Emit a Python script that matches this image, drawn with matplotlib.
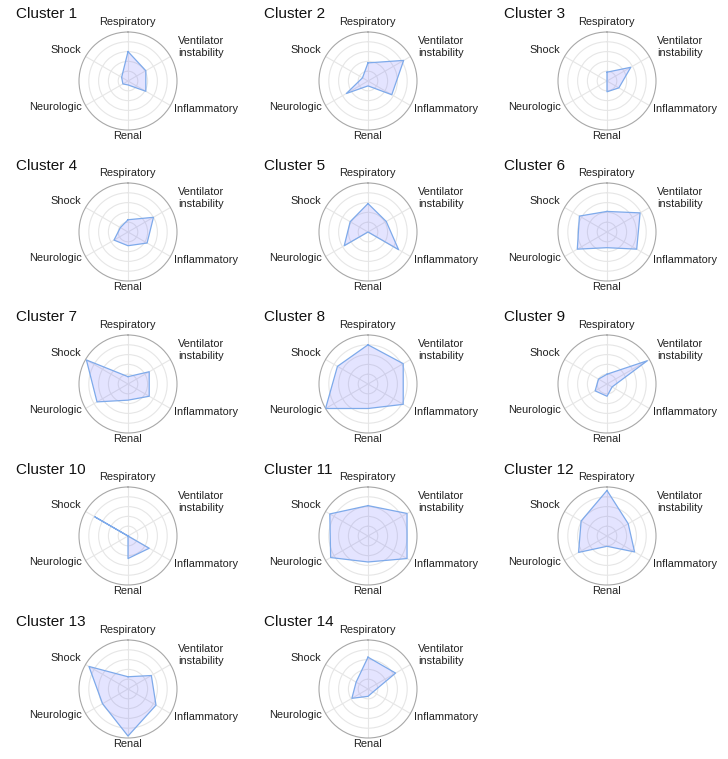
import numpy as np
import matplotlib
matplotlib.use('Agg')
import matplotlib.pyplot as plt

plt.rcParams['font.family'] = ['Liberation Sans', 'DejaVu Sans']

# axis order: clockwise from the top
categories = ['Respiratory', 'Ventilator\ninstability', 'Inflammatory', 'Renal', 'Neurologic', 'Shock']

cluster_names = ['Cluster %d' % i for i in range(1, 15)]
c1 = [0.60, 0.42, 0.42, 0.08, 0.12, 0.15]
c2 = [0.37, 0.84, 0.56, 0.10, 0.51, 0.13]
c3 = [0.18, 0.56, 0.28, 0.22, 0.00, 0.00]
c4 = [0.25, 0.60, 0.45, 0.28, 0.33, 0.18]
c5 = [0.58, 0.43, 0.72, 0.00, 0.56, 0.42]
c6 = [0.42, 0.78, 0.70, 0.32, 0.70, 0.65]
c7 = [0.15, 0.50, 0.50, 0.33, 0.73, 0.98]
c8 = [0.80, 0.83, 0.83, 0.50, 1.00, 0.72]
c9 = [0.20, 0.95, 0.12, 0.25, 0.28, 0.20]
c10 = [0.00, 0.00, 0.50, 0.46, 0.00, 0.78]
c11 = [0.62, 0.92, 0.92, 0.53, 0.88, 0.90]
c12 = [0.93, 0.50, 0.65, 0.21, 0.67, 0.61]
c13 = [0.25, 0.55, 0.66, 0.96, 0.60, 0.92]
c14 = [0.65, 0.65, 0.12, 0.15, 0.38, 0.28]
values = [c1, c2, c3, c4, c5, c6, c7, c8, c9, c10, c11, c12, c13, c14]

W, H = 728, 759
fig = plt.figure(figsize=(W / 100, H / 100), dpi=100)

col_x = [128, 368, 607]          # centre of each radar, pixels
row_y = [81, 232, 384, 536, 689]
title_x = [16, 264, 504]
R = 49                           # radius in pixels

angles = np.linspace(0, 2 * np.pi, 6, endpoint=False)

# label spots in axes fraction (centre 0.5, 0.5)
lab_pos = [
    (0.49, 1.097, 'center', 'center'),
    (1.01, 0.847, 'left', 'center'),
    (0.97, 0.214, 'left', 'center'),
    (0.49, -0.061, 'center', 'center'),
    (0.031, 0.23, 'right', 'center'),
    (0.02, 0.816, 'right', 'center'),
]

for i, (name, vals) in enumerate(zip(cluster_names, values)):
    r, c = divmod(i, 3)
    cx, cy = col_x[c], row_y[r]
    ax = fig.add_axes([(cx - R) / W, 1 - (cy + R) / H, 2 * R / W, 2 * R / H], polar=True)
    ax.set_theta_offset(np.pi / 2)
    ax.set_theta_direction(-1)
    ax.set_ylim(0, 1)
    ax.set_yticks([0.2, 0.4, 0.6, 0.8])
    ax.set_yticklabels([])
    ax.set_xticks(angles)
    ax.set_xticklabels([])
    ax.grid(color='#e6e6e6', linewidth=0.8)
    ax.spines['polar'].set_color('#a8a8a8')
    ax.spines['polar'].set_linewidth(0.8)

    th = np.append(angles, angles[0])
    v = np.append(vals, vals[0])
    ax.fill(th, v, facecolor='#6464ff', alpha=0.17, zorder=3)
    ax.plot(th, v, color='#7eaaea', linewidth=0.9, zorder=4)

    for lab, (x, y, ha, va) in zip(categories, lab_pos):
        ax.text(x, y, lab, transform=ax.transAxes, ha=ha, va=va,
                fontsize=7.9, color='#222222', multialignment='left')

    fig.text(title_x[c] / W, 1 - (cy - 62.5) / H, name, fontsize=11,
             ha='left', va='baseline', color='#111111')

fig.savefig('out.png', dpi=100)
